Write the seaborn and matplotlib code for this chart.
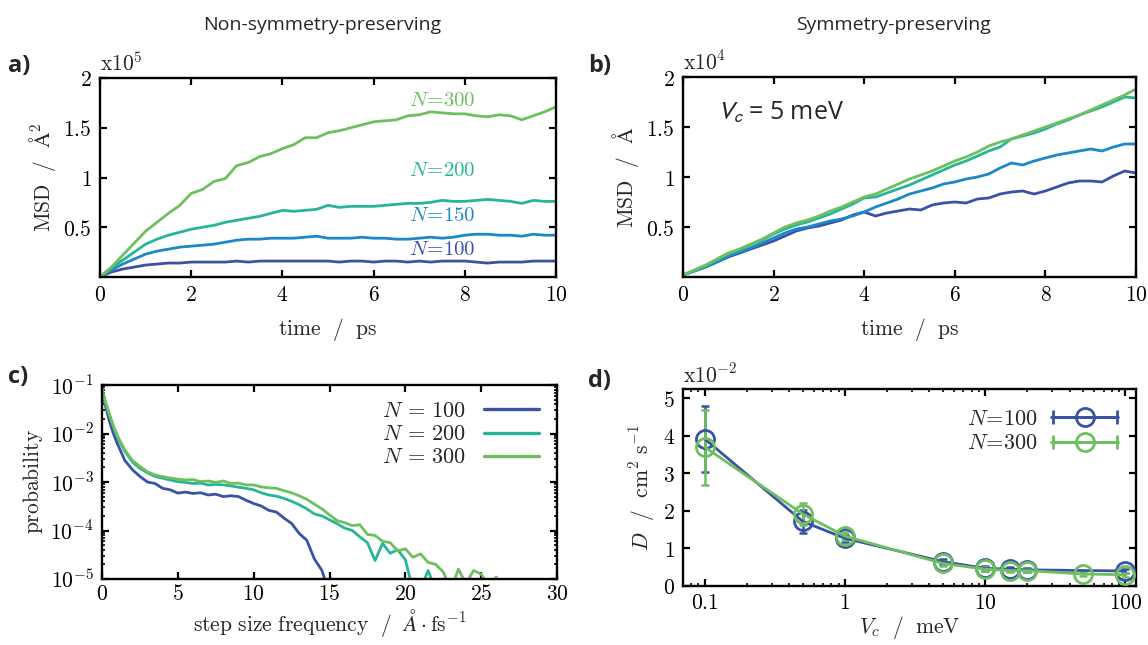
import numpy as np
import matplotlib
matplotlib.use("Agg")
import matplotlib.pyplot as plt
import seaborn as sns
from matplotlib.ticker import FixedLocator, FuncFormatter, LogLocator, NullFormatter
from matplotlib.container import ErrorbarContainer
from matplotlib.legend_handler import HandlerErrorbar

# ---------------- data ----------------
time_ps = [0, 0.25, 0.5, 0.75, 1, 1.25, 1.5, 1.75, 2, 2.25, 2.5, 2.75, 3, 3.25, 3.5, 3.75,
           4, 4.25, 4.5, 4.75, 5, 5.25, 5.5, 5.75, 6, 6.25, 6.5, 6.75, 7, 7.25, 7.5, 7.75,
           8, 8.25, 8.5, 8.75, 9, 9.25, 9.5, 9.75, 10]

# panel a: MSD in units of 1e5 A^2 (non-symmetry-preserving)
msd_a_100 = [0, 0.05, 0.08, 0.10, 0.12, 0.13, 0.14, 0.14, 0.15, 0.15, 0.15, 0.15, 0.16, 0.15,
             0.16, 0.16, 0.16, 0.16, 0.16, 0.16, 0.16, 0.15, 0.16, 0.16, 0.15, 0.16, 0.16, 0.15,
             0.16, 0.15, 0.16, 0.16, 0.16, 0.15, 0.14, 0.15, 0.15, 0.15, 0.16, 0.16, 0.16]
msd_a_150 = [0, 0.07, 0.13, 0.18, 0.23, 0.26, 0.28, 0.30, 0.31, 0.32, 0.33, 0.35, 0.37, 0.38,
             0.38, 0.39, 0.39, 0.39, 0.40, 0.41, 0.39, 0.39, 0.39, 0.40, 0.39, 0.39, 0.38, 0.38,
             0.39, 0.40, 0.39, 0.40, 0.42, 0.43, 0.43, 0.42, 0.42, 0.41, 0.43, 0.42, 0.42]
msd_a_200 = [0, 0.09, 0.17, 0.25, 0.33, 0.38, 0.42, 0.45, 0.48, 0.50, 0.52, 0.55, 0.57, 0.59,
             0.61, 0.64, 0.67, 0.66, 0.67, 0.68, 0.72, 0.70, 0.71, 0.71, 0.71, 0.72, 0.73, 0.74,
             0.74, 0.75, 0.77, 0.76, 0.76, 0.77, 0.78, 0.77, 0.76, 0.74, 0.77, 0.76, 0.76]
msd_a_300 = [0, 0.10, 0.22, 0.34, 0.46, 0.55, 0.64, 0.72, 0.84, 0.88, 0.96, 0.99, 1.12, 1.15,
             1.21, 1.24, 1.29, 1.33, 1.40, 1.40, 1.45, 1.47, 1.50, 1.53, 1.56, 1.57, 1.58, 1.62,
             1.63, 1.66, 1.65, 1.64, 1.64, 1.62, 1.61, 1.63, 1.62, 1.58, 1.62, 1.66, 1.71]

# panel b: MSD in units of 1e4 A (symmetry-preserving, Vc = 5 meV)
msd_b_100 = [0.02, 0.06, 0.10, 0.15, 0.20, 0.24, 0.28, 0.32, 0.36, 0.41, 0.46, 0.49, 0.51, 0.54,
             0.57, 0.62, 0.65, 0.61, 0.64, 0.66, 0.68, 0.67, 0.72, 0.74, 0.75, 0.74, 0.78, 0.79,
             0.83, 0.85, 0.86, 0.83, 0.86, 0.90, 0.94, 0.96, 0.96, 0.95, 1.01, 1.06, 1.04]
msd_b_150 = [0.02, 0.06, 0.10, 0.15, 0.21, 0.25, 0.29, 0.34, 0.39, 0.44, 0.48, 0.50, 0.53, 0.56,
             0.58, 0.61, 0.65, 0.70, 0.74, 0.78, 0.83, 0.86, 0.89, 0.93, 0.95, 0.98, 1.00, 1.03,
             1.09, 1.14, 1.12, 1.16, 1.19, 1.22, 1.24, 1.26, 1.28, 1.26, 1.30, 1.33, 1.33]
msd_b_200 = [0.02, 0.06, 0.11, 0.17, 0.23, 0.27, 0.32, 0.37, 0.43, 0.48, 0.52, 0.55, 0.59, 0.63,
             0.68, 0.73, 0.79, 0.80, 0.84, 0.88, 0.92, 0.97, 1.02, 1.07, 1.12, 1.16, 1.21, 1.26,
             1.30, 1.38, 1.41, 1.44, 1.48, 1.53, 1.57, 1.62, 1.66, 1.70, 1.75, 1.80, 1.79]
msd_b_300 = [0.02, 0.07, 0.12, 0.18, 0.24, 0.28, 0.33, 0.38, 0.44, 0.50, 0.54, 0.57, 0.61, 0.66,
             0.70, 0.75, 0.80, 0.83, 0.88, 0.93, 0.98, 1.02, 1.06, 1.11, 1.16, 1.20, 1.25, 1.31,
             1.35, 1.38, 1.42, 1.46, 1.50, 1.54, 1.58, 1.62, 1.67, 1.72, 1.77, 1.82, 1.88]

# panel c: step-size distribution
step_100 = [0, 0.25, 0.5, 0.75, 1, 1.5, 2, 2.5, 3, 3.5, 4, 4.5, 5, 5.5, 6, 6.5, 7, 7.5, 8, 8.5,
            9, 9.5, 10, 10.5, 11, 11.5, 12, 12.5, 13, 13.5, 14, 14.5, 15]
prob_100 = [8.0e-2, 3.5e-2, 1.75e-2, 1.0e-2, 6.3e-3, 2.8e-3, 1.8e-3, 1.3e-3, 1.0e-3, 9.3e-4,
            7.4e-4, 6.9e-4, 5.9e-4, 6.2e-4, 5.8e-4, 6.0e-4, 5.4e-4, 5.6e-4, 5.0e-4, 5.2e-4,
            5.0e-4, 4.2e-4, 3.6e-4, 3.2e-4, 2.6e-4, 2.4e-4, 1.8e-4, 1.4e-4, 8.7e-5, 6.3e-5,
            2.6e-5, 1.5e-5, 5.0e-6]
step_200 = [0, 0.25, 0.5, 0.75, 1, 1.5, 2, 2.5, 3, 3.5, 4, 4.5, 5, 5.5, 6, 6.5, 7, 7.5, 8, 8.5,
            9, 9.5, 10, 10.5, 11, 11.5, 12, 12.5, 13, 13.5, 14, 14.5, 15, 15.5, 16, 16.5, 17,
            17.5, 18, 18.5, 19, 19.5, 20, 20.5, 21, 21.5, 22]
prob_200 = [8.3e-2, 4.2e-2, 2.4e-2, 1.4e-2, 8.5e-3, 4.3e-3, 2.6e-3, 1.9e-3, 1.55e-3, 1.3e-3,
            1.2e-3, 1.1e-3, 1.02e-3, 9.8e-4, 9.3e-4, 9.5e-4, 8.7e-4, 8.9e-4, 8.7e-4, 8.3e-4,
            7.8e-4, 7.4e-4, 6.9e-4, 6.0e-4, 5.4e-4, 5.1e-4, 4.6e-4, 4.0e-4, 3.4e-4, 2.8e-4,
            2.2e-4, 2.0e-4, 1.66e-4, 1.38e-4, 1.12e-4, 1.0e-4, 7.4e-5, 5.6e-5, 2.4e-5, 5.4e-5,
            3.4e-5, 4.0e-5, 2.5e-5, 6.0e-6, 6.0e-6, 1.5e-5, 6.0e-6]
step_300 = [0, 0.25, 0.5, 0.75, 1, 1.5, 2, 2.5, 3, 3.5, 4, 4.5, 5, 5.5, 6, 6.5, 7, 7.5, 8, 8.5,
            9, 9.5, 10, 10.5, 11, 11.5, 12, 12.5, 13, 13.5, 14, 14.5, 15, 15.5, 16, 16.5, 17,
            17.5, 18, 18.5, 19, 19.5, 20, 20.5, 21, 21.5, 22, 22.5, 23, 23.5, 24, 24.5, 25,
            25.5, 26]
prob_300 = [8.3e-2, 4.2e-2, 2.4e-2, 1.4e-2, 9.3e-3, 4.6e-3, 2.8e-3, 2.1e-3, 1.62e-3, 1.4e-3,
            1.29e-3, 1.2e-3, 1.15e-3, 1.1e-3, 1.12e-3, 1.02e-3, 1.05e-3, 9.8e-4, 1.05e-3,
            9.3e-4, 9.5e-4, 8.7e-4, 8.7e-4, 7.9e-4, 7.6e-4, 7.4e-4, 6.6e-4, 6.0e-4, 5.2e-4,
            4.4e-4, 3.5e-4, 2.8e-4, 2.1e-4, 1.6e-4, 1.45e-4, 1.26e-4, 1.32e-4, 8.3e-5, 7.9e-5,
            6.0e-5, 5.6e-5, 3.8e-5, 4.2e-5, 2.8e-5, 3.3e-5, 2.2e-5, 2.0e-5, 1.4e-5, 6.0e-6,
            1.6e-5, 8.0e-6, 1.5e-5, 1.26e-5, 7.0e-6, 1.1e-5]

# panel d: diffusion coefficient (units of 1e-2 cm^2/s) vs Vc
vc_100 = [0.1, 0.5, 1, 5, 10, 15, 20, 100]
D_100 = [3.92, 1.72, 1.27, 0.65, 0.47, 0.45, 0.43, 0.40]
Derr_100 = [0.87, 0.30, 0.10, 0.06, 0.06, 0.05, 0.05, 0.05]
vc_300 = [0.1, 0.5, 1, 5, 10, 15, 20, 50, 100]
D_300 = [3.70, 1.92, 1.33, 0.60, 0.45, 0.41, 0.41, 0.32, 0.30]
Derr_300 = [1.00, 0.30, 0.10, 0.06, 0.06, 0.05, 0.05, 0.05, 0.05]

labels_N = ["100", "150", "200", "300"]

# ---------------- style ----------------
sns.set_theme(style="ticks")
plt.rcParams.update({
    "mathtext.fontset": "cm",
    "font.family": ["DejaVu Serif"],
    "axes.linewidth": 1.7,
    "axes.edgecolor": "black",
    "xtick.direction": "in",
    "ytick.direction": "in",
    "xtick.top": True,
    "ytick.right": True,
    "xtick.major.size": 5,
    "ytick.major.size": 5,
    "xtick.minor.size": 2.5,
    "ytick.minor.size": 2.5,
    "xtick.major.width": 1.6,
    "ytick.major.width": 1.6,
    "xtick.minor.width": 1.2,
    "ytick.minor.width": 1.2,
    "xtick.color": "black",
    "ytick.color": "black",
    "xtick.labelsize": 15.5,
    "ytick.labelsize": 15.5,
    "axes.labelsize": 15.5,
    "xtick.major.pad": 5,
    "ytick.major.pad": 6,
})

colors = {"100": "#3a52a4", "150": "#1d88c8", "200": "#27b597", "300": "#6dbf5f"}

W, H = 1148, 645
fig = plt.figure(figsize=(W / 100, H / 100), dpi=100)


def box(l, r, t, b):
    return [l / W, 1 - b / H, (r - l) / W, (b - t) / H]


axA = fig.add_axes(box(100, 556, 78, 277))
axB = fig.add_axes(box(683, 1136, 77, 277))
axC = fig.add_axes(box(102, 557, 385, 579))
axD = fig.add_axes(box(683, 1136, 389, 586))

mfmt = FuncFormatter(lambda v, p: r"$%g$" % v)

# ---- panel a ----
for key, vals in zip(labels_N, [msd_a_100, msd_a_150, msd_a_200, msd_a_300]):
    sns.lineplot(x=time_ps, y=vals, ax=axA, color=colors[key], lw=2.0,
                 estimator=None, sort=False)
axA.set_xlim(0, 10)
axA.set_ylim(0, 2)
axA.xaxis.set_major_locator(FixedLocator([0, 2, 4, 6, 8, 10]))
axA.yaxis.set_major_locator(FixedLocator([0.5, 1, 1.5, 2]))
axA.xaxis.set_major_formatter(mfmt)
axA.yaxis.set_major_formatter(mfmt)
axA.set_xlabel(r"$\mathrm{time\ \ /\ \ ps}$", labelpad=7)
axA.set_ylabel(r"$\mathrm{MSD\ \ /\ \ \AA^2}$")
axA.text(0.0, 1.01, r"$\mathrm{x}10^{5}$", transform=axA.transAxes, ha="left", va="bottom",
         fontsize=15.5)
for key, yv in zip(labels_N, [0.28, 0.62, 1.07, 1.77]):
    axA.text(7.5, yv, r"$N\!=\!%s$" % key, color=colors[key], ha="center", va="center",
             fontsize=15)

# ---- panel b ----
for key, vals in zip(labels_N, [msd_b_100, msd_b_150, msd_b_200, msd_b_300]):
    sns.lineplot(x=time_ps, y=vals, ax=axB, color=colors[key], lw=2.0,
                 estimator=None, sort=False)
axB.set_xlim(0, 10)
axB.set_ylim(0, 2)
axB.xaxis.set_major_locator(FixedLocator([0, 2, 4, 6, 8, 10]))
axB.yaxis.set_major_locator(FixedLocator([0.5, 1, 1.5, 2]))
axB.xaxis.set_major_formatter(mfmt)
axB.yaxis.set_major_formatter(mfmt)
axB.set_xlabel(r"$\mathrm{time\ \ /\ \ ps}$", labelpad=7)
axB.set_ylabel(r"$\mathrm{MSD\ \ /\ \ \AA}$")
axB.text(0.0, 1.01, r"$\mathrm{x}10^{4}$", transform=axB.transAxes, ha="left", va="bottom",
         fontsize=15.5)
axB.text(0.075, 0.82, r"$V_c$ = 5 meV", transform=axB.transAxes, ha="left", va="center",
         fontsize=18, family="Open Sans", math_fontfamily="stixsans")

# ---- panel c ----
for key, xs, ps in [("100", step_100, prob_100), ("200", step_200, prob_200),
                    ("300", step_300, prob_300)]:
    sns.lineplot(x=xs, y=ps, ax=axC, color=colors[key], lw=2.0, estimator=None, sort=False,
                 label=r"$N\,=\,%s$" % key, legend=False)
axC.set_yscale("log")
axC.set_xlim(0, 30)
axC.set_ylim(1e-5, 1e-1)
axC.xaxis.set_major_locator(FixedLocator([0, 5, 10, 15, 20, 25, 30]))
axC.xaxis.set_major_formatter(mfmt)
axC.yaxis.set_major_locator(FixedLocator([1e-5, 1e-4, 1e-3, 1e-2, 1e-1]))
axC.yaxis.set_major_formatter(FuncFormatter(lambda v, p: r"$10^{%d}$" % round(np.log10(v))))
axC.yaxis.set_minor_locator(LogLocator(base=10, subs=np.arange(2, 10) * 1.0, numticks=20))
axC.yaxis.set_minor_formatter(NullFormatter())
axC.tick_params(axis="x", pad=3)
axC.set_xlabel(r"$\mathrm{step\ size\ frequency\ \ /\ \ }\AA\cdot\mathrm{fs}^{-1}$",
               labelpad=1)
axC.set_ylabel(r"$\mathrm{probability}$")
leg = axC.legend(loc="upper right", bbox_to_anchor=(0.99, 0.99), frameon=False,
                 markerfirst=False, fontsize=16, handlelength=2.5, handletextpad=0.8,
                 labelspacing=0.05, borderaxespad=0.2)
for ln in leg.get_lines():
    ln.set_linewidth(2.4)

# ---- panel d ----
for key, xs, ds, es in [("100", vc_100, D_100, Derr_100), ("300", vc_300, D_300, Derr_300)]:
    col = colors[key]
    axD.errorbar(xs, ds, yerr=es, fmt="none", ecolor=col, elinewidth=1.8, capsize=3,
                 capthick=1.8, zorder=2)
    sns.lineplot(x=xs, y=ds, ax=axD, color=col, lw=2.0, marker="o", markersize=13,
                 markerfacecolor="none", markeredgecolor=col, markeredgewidth=2.0,
                 estimator=None, sort=False, zorder=3)
d_handles = []
for key in ["100", "300"]:
    col = colors[key]
    h = axD.errorbar([np.nan], [np.nan], xerr=[1.0], fmt="-o", color=col, lw=2.0,
                     ms=13, mfc="none", mec=col, mew=2.0, capsize=5, capthick=2.2,
                     label=r"$N\!=\!%s$" % key)
    d_handles.append(h)
axD.set_xscale("log")
axD.set_xlim(0.07, 119)
axD.set_ylim(0, 5.25)
axD.xaxis.set_major_locator(FixedLocator([0.1, 1, 10, 100]))
axD.xaxis.set_major_formatter(FuncFormatter(lambda v, p: r"$%g$" % v))
axD.xaxis.set_minor_locator(LogLocator(base=10, subs=np.arange(2, 10) * 1.0, numticks=20))
axD.xaxis.set_minor_formatter(NullFormatter())
axD.yaxis.set_major_locator(FixedLocator([0, 1, 2, 3, 4, 5]))
axD.yaxis.set_major_formatter(mfmt)
axD.tick_params(axis="x", pad=4)
axD.set_xlabel(r"$V_c\ \ /\ \ \mathrm{meV}$", labelpad=0)
axD.set_ylabel(r"$D\ \ /\ \ \mathrm{cm}^2\ \mathrm{s}^{-1}$")
axD.text(0.0, 1.01, r"$\mathrm{x}10^{-2}$", transform=axD.transAxes, ha="left",
         va="bottom", fontsize=15.5)
axD.legend(handles=d_handles, labels=[r"$N\!=\!100$", r"$N\!=\!300$"], loc="upper right",
           bbox_to_anchor=(0.99, 0.97), frameon=False, markerfirst=False, fontsize=16,
           handlelength=3.0, handletextpad=0.6, labelspacing=0.1, borderaxespad=0.2,
           handler_map={ErrorbarContainer: HandlerErrorbar(xerr_size=1.45)})

for ax in [axA, axB, axC, axD]:
    ax.tick_params(which="both", top=True, right=True)
    for s in ax.spines.values():
        s.set_visible(True)
        s.set_linewidth(1.7)

# ---- titles and panel letters ----
fig.text(322 / W, 1 - 25 / H, "Non-symmetry-preserving", ha="center", va="center",
         fontsize=14, family="Open Sans")
fig.text(893 / W, 1 - 25 / H, "Symmetry-preserving", ha="center", va="center",
         fontsize=14, family="Open Sans")
for lab, x, y in [("a)", 8, 66), ("b)", 588, 66), ("c)", 8, 377), ("d)", 588, 381)]:
    fig.text(x / W, 1 - y / H, lab, ha="left", va="center", fontsize=17,
             fontweight="bold", family="Open Sans")

fig.savefig("out.png", dpi=100)
